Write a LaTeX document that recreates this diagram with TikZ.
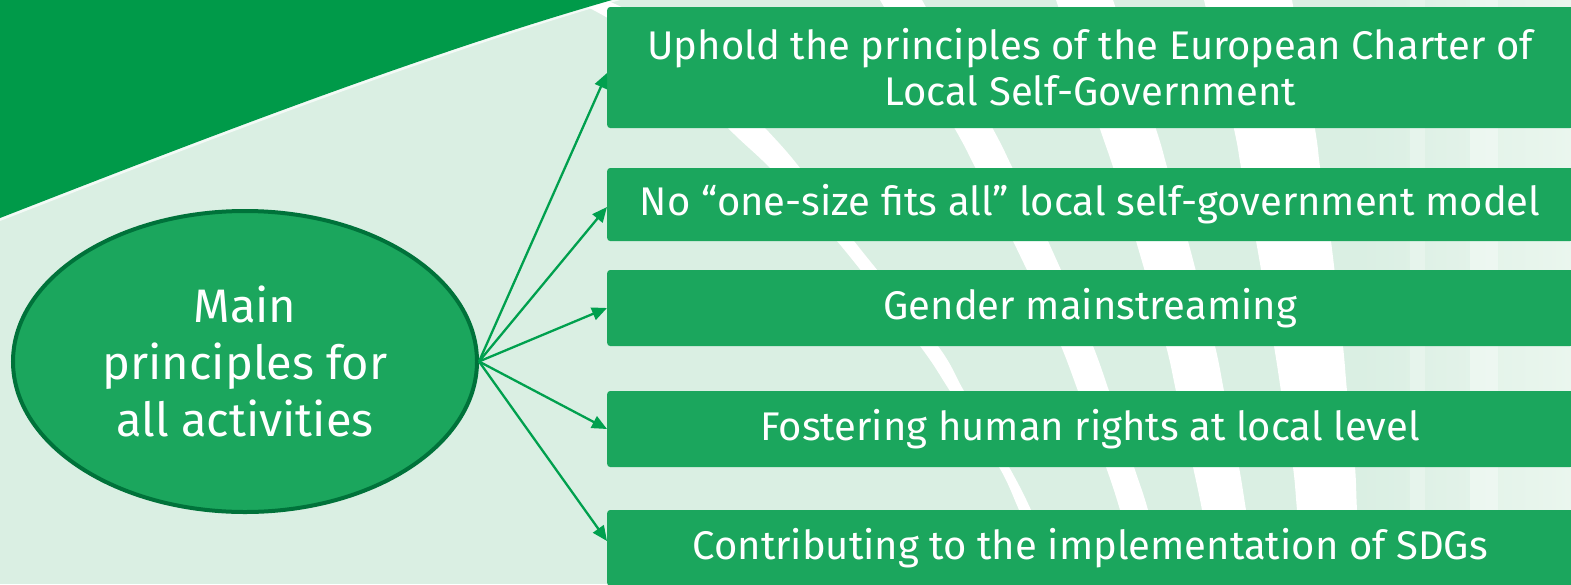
\documentclass[tikz,border=0pt]{standalone}
\usepackage{fontspec}
\setmainfont{Fira Sans}
\usetikzlibrary{arrows.meta,shapes.geometric,calc}
\definecolor{bg}{HTML}{DAEFE3}
\definecolor{bglight}{HTML}{EAF6EE}
\definecolor{swoosh}{HTML}{009A49}
\definecolor{boxg}{HTML}{1BA65D}
\definecolor{ellb}{HTML}{00723A}
\definecolor{arrg}{HTML}{00A04E}
\begin{document}
\begin{tikzpicture}[x=1pt,y=-1pt,
  boxnode/.style={rectangle,rounded corners=3pt,fill=boxg,text=white,minimum width=966pt,anchor=west,align=center,inner sep=0pt,font=\fontsize{40}{46}\selectfont},
  link/.style={draw=arrg,line width=2.3pt,-{Triangle[length=15pt,width=13pt]}},
  stripe/.style={fill=white}]
\useasboundingbox (0,0) rectangle (1571,584);
\clip (0,0) rectangle (1571,584);
% background
\fill[bg] (0,0) rectangle (1571,584);
\fill[left color=bg,right color=bglight] (1360,0) rectangle (1571,584);
\fill[white,opacity=0.35] (1470,0) rectangle (1498,584);
\fill[white,opacity=0.25] (1410,0) rectangle (1425,584);
% white stripes
\fill[stripe] plot[smooth] coordinates {(574,0) (650,45) (728,128) (770,168) (837,241) (920,346) (950,391) (999,467) (1019,510) (1050,584)}
  -- plot[smooth] coordinates {(1062,584) (1031,510) (1009,467) (964,391) (938,346) (854,241) (800,168) (765,128) (680,40) (606,0)} -- cycle;
\fill[stripe] plot[smooth] coordinates {(880,0) (955,129) (975,167) (1013,241) (1027,270) (1061,346) (1078,391) (1106,467) (1120,510) (1140,584)}
  -- plot[smooth] coordinates {(1166,584) (1148,510) (1134,467) (1109,391) (1093,346) (1061,270) (1048,241) (1012,167) (993,129) (922,0)} -- cycle;
\fill[stripe] plot[smooth] coordinates {(1056,0) (1100,129) (1113,167) (1136,241) (1166,346) (1176,391) (1193,467) (1202,510) (1215,584)}
  -- plot[smooth] coordinates {(1258,584) (1246,510) (1239,467) (1224,391) (1215,346) (1188,241) (1167,167) (1156,129) (1113,0)} -- cycle;
\fill[stripe] plot[smooth] coordinates {(1204,0) (1234,129) (1241,167) (1256,241) (1274,346) (1281,391) (1293,467) (1297,510) (1304,584)}
  -- plot[smooth] coordinates {(1362,584) (1357,510) (1355,467) (1347,391) (1343,346) (1331,241) (1320,167) (1315,129) (1292,0)} -- cycle;
% dark swoosh
\fill[white,opacity=0.7] (0,221) .. controls (200,143) and (420,58) .. (620,0) -- (0,0) -- cycle;
\fill[swoosh] (0,218) .. controls (200,140) and (420,55) .. (612,0) -- (0,0) -- cycle;
% ellipse
\node[ellipse,fill=boxg,draw=ellb,line width=4pt,minimum width=464pt,minimum height=301pt,inner sep=0pt,
  text=white,align=center,font=\fontsize{47}{57}\selectfont] (m) at (245,361.5) {Main\\principles for\\all activities};
% boxes
\node[boxnode,minimum height=121pt] (b1) at (607,67.5) {Uphold the principles of the European Charter of\\Local Self-Government};
\node[boxnode,minimum height=73pt] (b2) at (607,204.5) {No “one-size fits all” local self-government model};
\node[boxnode,minimum height=76pt] (b3) at (607,308) {Gender mainstreaming};
\node[boxnode,minimum height=76pt] (b4) at (607,429) {Fostering human rights at local level};
\node[boxnode,minimum height=76pt] (b5) at (607,548) {Contributing to the implementation of SDGs};
% connectors
\coordinate (t1) at ($(b1.west)+(0,5.5)$);
\coordinate (t2) at ($(b2.west)+(0,2.5)$);
\coordinate (t5) at ($(b5.west)+(0,-7)$);
\draw[link] (m.east) -- (t1);
\draw[link] (m.east) -- (t2);
\draw[link] (m.east) -- (b3.west);
\draw[link] (m.east) -- (b4.west);
\draw[link] (m.east) -- (t5);
\end{tikzpicture}
\end{document}
